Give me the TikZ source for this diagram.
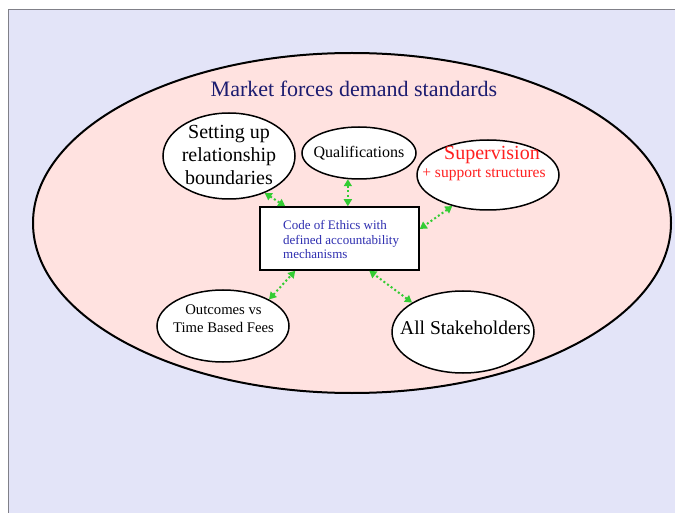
\documentclass[tikz,border=0pt]{standalone}
\usepackage{fontspec}
\setmainfont{Liberation Serif}
\usetikzlibrary{arrows.meta,shapes.geometric}
\definecolor{bglav}{HTML}{E3E4F8}
\definecolor{bgpink}{HTML}{FFE2E0}
\definecolor{framegray}{HTML}{808088}
\definecolor{titlenavy}{HTML}{1C1C70}
\definecolor{codeblue}{HTML}{2E2EB0}
\definecolor{supred}{HTML}{FF2020}
\definecolor{arrowgreen}{HTML}{33CC33}
\tikzset{
  bub/.style={ellipse, draw=black, line width=1.5pt, fill=white, inner sep=0pt},
  codebox/.style={rectangle, draw=black, line width=1.5pt, fill=white, inner sep=0pt},
  conn/.style={draw=arrowgreen, line width=2pt, dash pattern=on 2pt off 2.5pt,
    {Triangle[length=7pt,width=8pt,fill=arrowgreen]}-{Triangle[length=7pt,width=8pt,fill=arrowgreen]}},
  lbl/.style={inner sep=0pt, align=center}
}
\begin{document}
\begin{tikzpicture}[x=1pt,y=-1pt]
\useasboundingbox (0,0) rectangle (675,513);
\fill[white] (0,0) rectangle (675,513);
\fill[bglav] (8.5,10) rectangle (675,513);
\draw[framegray, line width=1pt] (8.5,513) -- (8.5,10) -- (675,10);
% market ellipse
\draw[fill=bgpink, line width=2pt] (352,223) ellipse [x radius=319pt, y radius=170pt];
\node[lbl, text=titlenavy, font=\fontsize{22}{26}\selectfont] (title) at (354,89) {Market forces demand standards};
% bubbles
\node[bub, minimum width=132pt, minimum height=86pt] (set) at (229,156) {};
\node[lbl, font=\fontsize{20}{23}\selectfont] (sett) at (229,155) {Setting up\\relationship\\boundaries};
\node[bub, minimum width=114pt, minimum height=52pt] (qual) at (359,153) {};
\node[lbl, font=\fontsize{16}{19}\selectfont] (qualt) at (359,153) {Qualifications};
\node[bub, minimum width=142pt, minimum height=70pt] (sup) at (488,175) {};
\node[lbl, text=supred, font=\fontsize{20}{23}\selectfont] (supt) at (492,155.5) {Supervision};
\node[lbl, text=supred, font=\fontsize{15.5}{18}\selectfont] (sups) at (484,175) {+ support structures};
\node[bub, minimum width=132pt, minimum height=72pt] (out) at (223,326) {};
\node[lbl, font=\fontsize{14.7}{18}\selectfont] (outt) at (223.5,319) {Outcomes vs\\Time Based Fees};
\node[bub, minimum width=142pt, minimum height=82pt] (stake) at (463,332) {};
\node[lbl, font=\fontsize{19.5}{23}\selectfont] (staket) at (465.5,328) {All Stakeholders};
% code box
\node[codebox, minimum width=159pt, minimum height=63pt] (code) at (339.5,238.5) {};
\node[inner sep=0pt, anchor=west, align=left, text=codeblue, font=\fontsize{13}{14.5}\selectfont] (codet) at (283,239.5) {Code of Ethics with\\defined accountability\\mechanisms};
% connectors
\draw[conn] (set.-46) -- ([xshift=26pt]code.north west);
\draw[conn] (qual.-113) -- (qual.-113 |- code.north);
\draw[conn] (sup.-139.5) -- ([yshift=9.5pt]code.east);
\draw[conn] (out.30) -- ([xshift=36pt]code.south west);
\draw[conn] (stake.150.4) -- ([xshift=110pt]code.south west);
\end{tikzpicture}
\end{document}
